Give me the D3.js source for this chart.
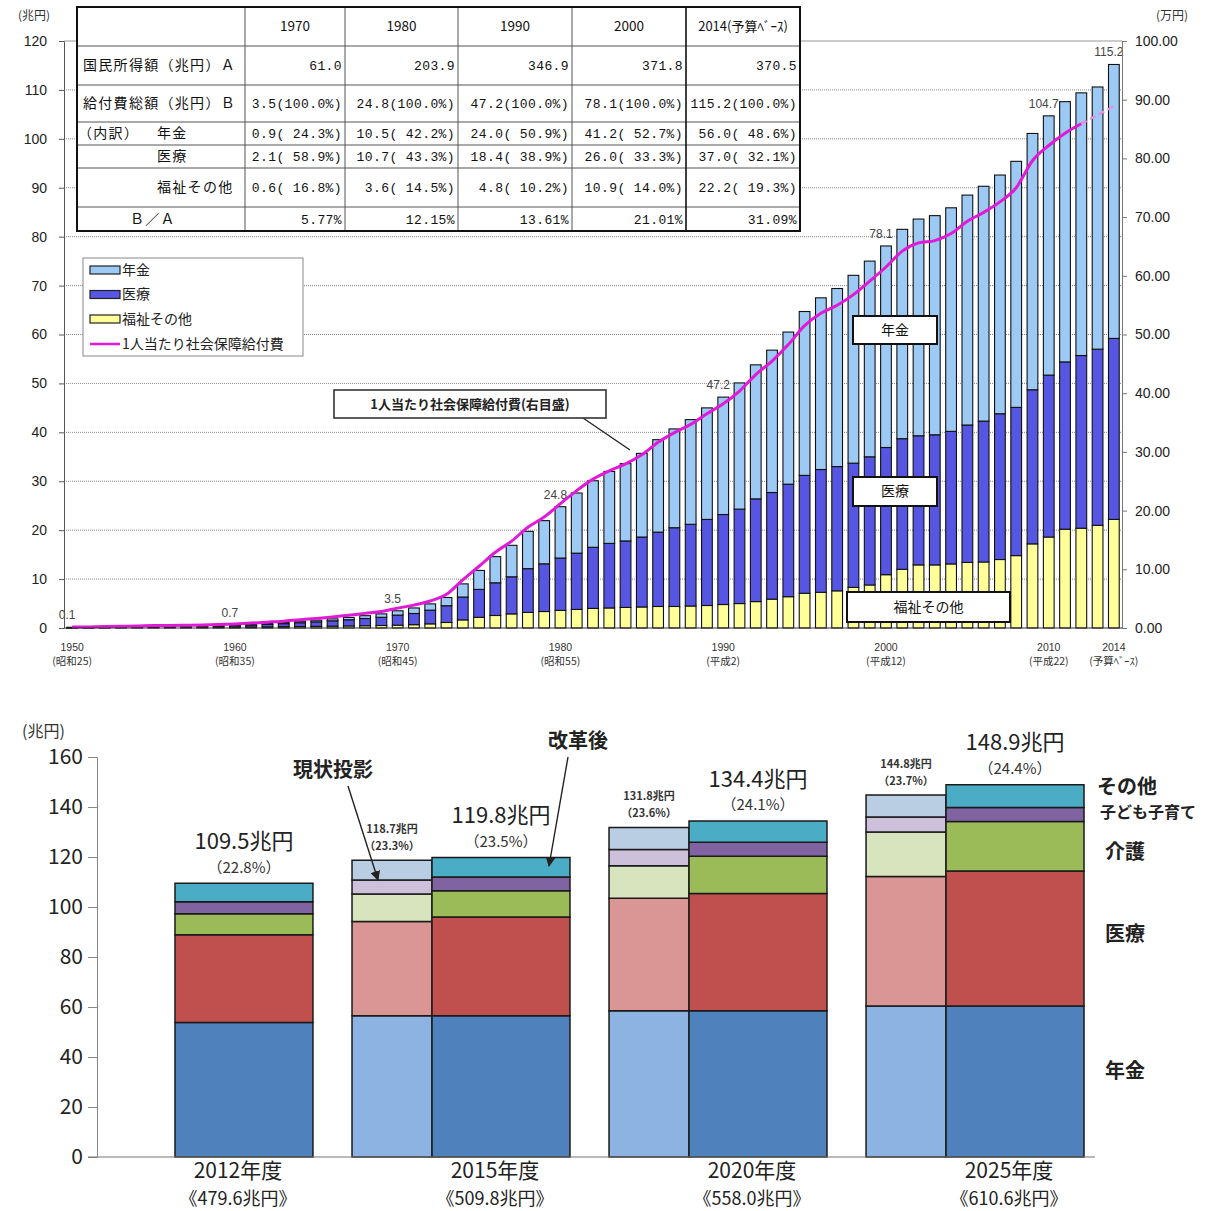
<!DOCTYPE html>
<html>
<head>
<meta charset="utf-8">
<script src="https://cdn.jsdelivr.net/npm/d3@7"></script>
<style>
body { margin: 0; background: #fff; }
svg text { font-family: "Noto Sans CJK JP", "Noto Sans", sans-serif; }
svg text.num { font-family: "Liberation Sans", Arial, sans-serif; }
svg text.mono { font-family: "Liberation Mono", "DejaVu Sans Mono", monospace; }
</style>
</head>
<body>
<svg id="chart" width="1214" height="1211"></svg>
<script>
// ---- top chart data: social security benefits 1950-2014 (兆円) ----
var years = d3.range(1950, 2015);
var pension = [
  0.01,0.01,0.02,0.03,0.04,0.09,0.09,0.09,0.10,0.12,
  0.16,0.19,0.21,0.24,0.30,0.34,0.40,0.47,0.58,0.70,
  0.88,1.13,1.28,1.69,2.69,3.88,5.35,6.43,7.63,8.83,
  10.5,12.3,13.6,14.7,15.8,17.1,18.9,20.2,21.4,22.8,
  24.0,25.8,27.4,29.1,31.1,33.5,35.1,36.4,38.4,40.0,
  41.2,42.8,44.3,44.8,45.7,47.0,48.0,48.8,50.3,52.4,
  53.0,53.2,53.7,53.6,56.0];
var medical = [
  0.06,0.08,0.11,0.13,0.15,0.18,0.19,0.21,0.24,0.27,
  0.31,0.40,0.51,0.62,0.78,0.92,1.09,1.27,1.48,1.68,
  2.06,2.29,2.80,3.42,4.67,5.71,6.68,7.58,8.95,9.75,
  10.7,11.5,12.5,13.2,13.6,14.3,15.2,16.1,16.7,17.6,
  18.4,19.3,21.0,21.8,23.0,24.1,25.1,25.4,25.4,26.2,
  26.0,26.7,26.4,26.6,27.1,28.1,28.8,29.8,30.3,31.5,
  33.1,34.2,35.3,36.0,37.0];
var welfare = [
  0.06,0.07,0.09,0.10,0.11,0.12,0.12,0.13,0.14,0.16,
  0.18,0.20,0.23,0.27,0.30,0.34,0.38,0.42,0.46,0.51,
  0.58,0.68,0.85,1.13,1.66,2.18,2.56,2.89,3.18,3.37,
  3.6,3.8,4.0,4.1,4.2,4.3,4.4,4.4,4.5,4.6,
  4.8,5.0,5.4,5.9,6.4,7.1,7.3,7.6,8.3,8.8,
  10.9,12.0,12.9,12.9,13.1,13.4,13.5,14.0,14.8,17.2,
  18.6,20.2,20.4,21.0,22.2];
// per person (万円, right axis)
var perCapita = [
  0.16,0.19,0.26,0.30,0.34,0.44,0.44,0.47,0.52,0.59,
  0.70,0.84,1.00,1.17,1.42,1.63,1.89,2.16,2.49,2.82,
  3.39,3.90,4.60,5.74,8.19,10.52,12.90,14.80,17.15,18.91,
  21.18,23.41,25.36,26.78,27.95,29.50,31.63,33.28,34.69,36.50,
  38.19,40.37,43.18,45.48,48.28,51.51,53.61,54.99,56.8,59.1,
  61.5,64.2,65.6,66.0,67.2,69.3,70.8,72.6,75.0,79.6,
  82.2,84.3,85.9,87.4,88.9];
var lineSolidUntil = 2012;

var labelYears = [1950, 1960, 1970, 1980, 1990, 2000, 2010, 2014];
var labelTexts = ["0.1", "0.7", "3.5", "24.8", "47.2", "78.1", "104.7", "115.2"];
var tickYears = [1950, 1960, 1970, 1980, 1990, 2000, 2010, 2014];
var eraLabels = ["(昭和25)", "(昭和35)", "(昭和45)", "(昭和55)", "(平成2)", "(平成12)", "(平成22)", "(予算ﾍﾞｰｽ)"];

var seriesNames = ["年金", "医療", "福祉その他"];
var lineName = "1人当たり社会保障給付費";

// table
var tableHead = ["1970", "1980", "1990", "2000", "2014(予算ﾍﾞｰｽ)"];
var rowIncome = ["61.0", "203.9", "346.9", "371.8", "370.5"];
var rowTotal = ["3.5(100.0%)", "24.8(100.0%)", "47.2(100.0%)", "78.1(100.0%)", "115.2(100.0%)"];
var rowPension = ["0.9( 24.3%)", "10.5( 42.2%)", "24.0( 50.9%)", "41.2( 52.7%)", "56.0( 48.6%)"];
var rowMedical = ["2.1( 58.9%)", "10.7( 43.3%)", "18.4( 38.9%)", "26.0( 33.3%)", "37.0( 32.1%)"];
var rowWelfare = ["0.6( 16.8%)", "3.6( 14.5%)", "4.8( 10.2%)", "10.9( 14.0%)", "22.2( 19.3%)"];
var rowRatio = ["5.77%", "12.15%", "13.61%", "21.01%", "31.09%"];

// ---- bottom chart data: projections (兆円) ----
var futureYears = ["2012", "2015", "2020", "2025"];
var futureCats = ["年金", "医療", "介護", "子ども子育て", "その他"];
// 改革後
var pensionR = [53.8, 56.5, 58.5, 60.4];
var medicalR = [35.1, 39.5, 46.9, 54.0];
var careR = [8.4, 10.5, 14.9, 19.8];
var childR = [4.8, 5.5, 5.6, 5.6];
var otherR = [7.4, 7.8, 8.5, 9.1];
// 現状投影
var pensionS = [null, 56.5, 58.5, 60.4];
var medicalS = [null, 37.7, 45.0, 51.8];
var careS = [null, 11.0, 13.0, 17.8];
var childS = [null, 5.6, 6.5, 6.0];
var otherS = [null, 7.9, 8.8, 8.8];
var reformTotal = ["109.5兆円", "119.8兆円", "134.4兆円", "148.9兆円"];
var reformPct = ["（22.8%）", "（23.5%）", "（24.1%）", "（24.4%）"];
var sqTotal = [null, "118.7兆円", "131.8兆円", "144.8兆円"];
var sqPct = [null, "（23.3%）", "（23.6%）", "（23.7%）"];
var gdpLabels = ["《479.6兆円》", "《509.8兆円》", "《558.0兆円》", "《610.6兆円》"];

var svg = d3.select("#chart");

// =============== top chart ===============
var x = d3.scaleBand().domain(years).range([64, 1122]).paddingInner(0.34).paddingOuter(0.17);
var yL = d3.scaleLinear().domain([0, 120]).range([628, 41]);
var yR = d3.scaleLinear().domain([0, 100]).range([628, 41]);
var bw = x.bandwidth();

var topG = svg.append("g");

// gridlines
topG.append("g").selectAll("line")
  .data(yL.ticks(12).filter(function(d) { return d > 0; }))
  .enter().append("line")
    .attr("x1", 64).attr("x2", 1122)
    .attr("y1", function(d) { return yL(d); }).attr("y2", function(d) { return yL(d); })
    .attr("stroke", function(d) { return d === 120 ? "#999" : "#888"; })
    .attr("stroke-dasharray", function(d) { return d === 120 ? null : "1,1"; });

// stacked bars
var rows = years.map(function(yr, i) {
  return { year: yr, welfare: welfare[i], medical: medical[i], pension: pension[i] };
});
var stack = d3.stack().keys(["welfare", "medical", "pension"]);
var barColors = { welfare: "#ffff99", medical: "#5656e2", pension: "#9dcaf5" };

topG.append("g").selectAll("g")
  .data(stack(rows))
  .enter().append("g")
    .attr("fill", function(s) { return barColors[s.key]; })
  .selectAll("rect")
  .data(function(s) { return s; })
  .enter().append("rect")
    .attr("x", function(d) { return x(d.data.year); })
    .attr("y", function(d) { return yL(d[1]); })
    .attr("width", bw)
    .attr("height", function(d) { return Math.max(0.5, yL(d[0]) - yL(d[1])); })
    .attr("stroke", "#111")
    .attr("stroke-width", 1.1);

// total labels
topG.append("g").selectAll("text")
  .data(labelYears)
  .enter().append("text")
    .attr("class", "num")
    .attr("x", function(yr) { return x(yr) + bw / 2 - 5; })
    .attr("y", function(yr) {
      var i = years.indexOf(yr);
      return yL(pension[i] + medical[i] + welfare[i]) - 8;
    })
    .attr("text-anchor", "middle")
    .attr("font-size", 12)
    .attr("fill", "#444")
    .text(function(yr, i) { return labelTexts[i]; });

// per-person line
var linePts = years.map(function(yr, i) { return { year: yr, v: perCapita[i] }; });
var line = d3.line()
  .x(function(d) { return x(d.year) + bw / 2; })
  .y(function(d) { return yR(d.v); })
  .curve(d3.curveMonotoneX);
topG.append("path")
  .datum(linePts.filter(function(d) { return d.year <= lineSolidUntil; }))
  .attr("d", line)
  .attr("fill", "none")
  .attr("stroke", "#e01ad6")
  .attr("stroke-width", 3);
topG.append("path")
  .datum(linePts.filter(function(d) { return d.year >= lineSolidUntil; }))
  .attr("d", line)
  .attr("fill", "none")
  .attr("stroke", "#e68ee0")
  .attr("stroke-width", 2.5)
  .attr("stroke-dasharray", "6,4");

// axes
topG.append("line").attr("x1", 64).attr("x2", 1122).attr("y1", 628).attr("y2", 628).attr("stroke", "#333");
topG.append("g").attr("transform", "translate(64,0)")
  .call(d3.axisLeft(yL).ticks(12).tickSize(5).tickSizeOuter(0).tickPadding(12))
  .call(function(g) {
    g.select(".domain").attr("stroke", "#555");
    g.selectAll(".tick line").attr("stroke", "#555");
    g.selectAll("text").attr("class", "num").attr("font-size", 14).attr("fill", "#222");
  });
topG.append("g").attr("transform", "translate(1122,0)")
  .call(d3.axisRight(yR).ticks(10).tickFormat(d3.format(".2f")).tickSize(5).tickSizeOuter(0).tickPadding(8))
  .call(function(g) {
    g.select(".domain").attr("stroke", "#777");
    g.selectAll(".tick line").attr("stroke", "#777");
    g.selectAll("text").attr("class", "num").attr("font-size", 14).attr("fill", "#222");
  });
topG.append("text").attr("x", 18).attr("y", 20).attr("font-size", 12).attr("fill", "#333").text("(兆円)");
topG.append("text").attr("x", 1156).attr("y", 20).attr("font-size", 12).attr("fill", "#333").text("(万円)");

// x tick labels
var xt = topG.append("g").selectAll("g").data(tickYears).enter().append("g")
  .attr("transform", function(yr) { return "translate(" + (x(yr) + bw / 2) + ",0)"; });
xt.append("text").attr("class", "num").attr("y", 651).attr("text-anchor", "middle")
  .attr("font-size", 10.5).attr("fill", "#333").text(function(yr) { return yr; });
xt.append("text").attr("y", 665).attr("text-anchor", "middle")
  .attr("font-size", 10.5).attr("fill", "#333").text(function(yr, i) { return eraLabels[i]; });

// table
var colX = [77, 245, 345, 458, 572, 686, 800];
var rowY = [7, 46, 85, 122, 145, 168, 207, 231];
var tbl = topG.append("g");
tbl.append("rect").attr("x", colX[0]).attr("y", rowY[0])
  .attr("width", colX[6] - colX[0]).attr("height", rowY[7] - rowY[0])
  .attr("fill", "#fff");
tbl.selectAll("line.r").data(rowY.slice(1, 7)).enter().append("line")
  .attr("x1", colX[0]).attr("x2", colX[6]).attr("y1", function(d) { return d; }).attr("y2", function(d) { return d; })
  .attr("stroke", "#555");
tbl.selectAll("line.c").data(colX.slice(1, 6)).enter().append("line")
  .attr("y1", rowY[0]).attr("y2", rowY[7]).attr("x1", function(d) { return d; }).attr("x2", function(d) { return d; })
  .attr("stroke", function(d, i) { return i === 4 ? "#111" : "#555"; })
  .attr("stroke-width", function(d, i) { return i === 4 ? 1.6 : 1; });
tbl.append("rect").attr("x", colX[0]).attr("y", rowY[0])
  .attr("width", colX[6] - colX[0]).attr("height", rowY[7] - rowY[0])
  .attr("fill", "none").attr("stroke", "#111").attr("stroke-width", 2);

var rowMid = d3.range(7).map(function(i) { return (rowY[i] + rowY[i + 1]) / 2; });
tbl.selectAll("text.h").data(tableHead).enter().append("text")
  .attr("x", function(d, i) { return (colX[i + 1] + colX[i + 2]) / 2; })
  .attr("y", rowMid[0]).attr("dy", "0.35em").attr("text-anchor", "middle")
  .attr("font-size", function(d, i) { return i === 4 ? 13 : 13.5; }).attr("fill", "#111")
  .text(function(d) { return d; });
[rowIncome, rowTotal, rowPension, rowMedical, rowWelfare, rowRatio].forEach(function(r, ri) {
  tbl.append("g").selectAll("text").data(r).enter().append("text")
    .attr("class", "mono")
    .attr("x", function(d, i) { return colX[i + 2] - 3; })
    .attr("y", rowMid[ri + 1]).attr("dy", "0.35em").attr("text-anchor", "end")
    .attr("font-size", 13).attr("letter-spacing", 0.4).attr("fill", "#111")
    .style("white-space", "pre")
    .text(function(d) { return d; });
});
var rowLabels = [
  { t: "国民所得額（兆円）Ａ", x: 83, r: 1 },
  { t: "給付費総額（兆円）Ｂ", x: 83, r: 2 },
  { t: "（内訳）", x: 78, r: 3 },
  { t: "年金", x: 157, r: 3 },
  { t: "医療", x: 157, r: 4 },
  { t: "福祉その他", x: 157, r: 5 },
  { t: "Ｂ／Ａ", x: 130, r: 6 }
];
tbl.selectAll("text.l").data(rowLabels).enter().append("text")
  .attr("x", function(d) { return d.x; })
  .attr("y", function(d) { return rowMid[d.r]; }).attr("dy", "0.35em")
  .attr("font-size", 14).attr("letter-spacing", 1.3).attr("fill", "#111")
  .text(function(d) { return d.t; });

// legend
var lg = topG.append("g").attr("transform", "translate(83,258)");
lg.append("rect").attr("width", 220).attr("height", 98).attr("fill", "#fff").attr("stroke", "#888");
var legendKeys = ["pension", "medical", "welfare"];
legendKeys.forEach(function(k, i) {
  var gy = 12 + i * 24.5;
  lg.append("rect").attr("x", 7).attr("y", gy - 4).attr("width", 30).attr("height", 8)
    .attr("fill", barColors[k]).attr("stroke", "#222").attr("stroke-width", 1.2);
  lg.append("text").attr("x", 39).attr("y", gy).attr("dy", "0.35em")
    .attr("font-size", 14).attr("fill", "#222").text(seriesNames[i]);
});
lg.append("line").attr("x1", 7).attr("x2", 37).attr("y1", 86).attr("y2", 86)
  .attr("stroke", "#e01ad6").attr("stroke-width", 2.5);
lg.append("text").attr("x", 39).attr("y", 86).attr("dy", "0.35em")
  .attr("font-size", 14).attr("fill", "#222").text(lineName);

// annotation boxes
function tagBox(x0, y0, w, h, label) {
  var g = topG.append("g");
  g.append("rect").attr("x", x0).attr("y", y0).attr("width", w).attr("height", h)
    .attr("fill", "#fff").attr("stroke", "#111").attr("stroke-width", 2);
  g.append("text").attr("x", x0 + w / 2).attr("y", y0 + h / 2).attr("dy", "0.35em")
    .attr("text-anchor", "middle").attr("font-size", 14).attr("fill", "#111").text(label);
}
tagBox(853, 316, 84, 28, seriesNames[0]);
tagBox(853, 477, 84, 29, seriesNames[1]);
tagBox(847, 592, 163, 30, seriesNames[2]);

topG.append("line").attr("x1", 583).attr("y1", 418).attr("x2", 630).attr("y2", 450)
  .attr("stroke", "#222").attr("stroke-width", 1.3);
topG.append("rect").attr("x", 334).attr("y", 390).attr("width", 272).attr("height", 28)
  .attr("fill", "#fff").attr("stroke", "#333").attr("stroke-width", 1.6);
topG.append("text").attr("x", 470).attr("y", 404).attr("dy", "0.35em")
  .attr("text-anchor", "middle").attr("font-size", 13).attr("font-weight", "bold").attr("fill", "#222")
  .text(lineName + "(右目盛)");

// =============== bottom chart ===============
var xb = d3.scaleBand().domain(futureYears).range([95, 1084]).paddingInner(0.152);
var yb = d3.scaleLinear().domain([0, 160]).range([1157, 757]);
var groupW = xb.bandwidth();
var lightW = groupW * 0.367;
var darkColors = ["#4f81bd", "#c0504d", "#9bbb59", "#8064a2", "#4bacc6"];
var lightColors = ["#8db3e2", "#da9694", "#d7e4bd", "#ccc0da", "#b9cde3"];

var botG = svg.append("g");

var reformRows = futureYears.map(function(yr, i) {
  return { year: yr, 0: pensionR[i], 1: medicalR[i], 2: careR[i], 3: childR[i], 4: otherR[i] };
});
var sqRows = futureYears.map(function(yr, i) {
  return { year: yr, 0: pensionS[i], 1: medicalS[i], 2: careS[i], 3: childS[i], 4: otherS[i] };
}).filter(function(d) { return d[0] !== null; });
var stackB = d3.stack().keys([0, 1, 2, 3, 4]);

botG.append("g").selectAll("g").data(stackB(sqRows)).enter().append("g")
  .attr("fill", function(s) { return lightColors[s.key]; })
  .selectAll("rect").data(function(s) { return s; }).enter().append("rect")
    .attr("x", function(d) { return xb(d.data.year); })
    .attr("y", function(d) { return yb(d[1]); })
    .attr("width", lightW)
    .attr("height", function(d) { return yb(d[0]) - yb(d[1]); })
    .attr("stroke", "#1a1a1a").attr("stroke-width", 1.5);

botG.append("g").selectAll("g").data(stackB(reformRows)).enter().append("g")
  .attr("fill", function(s) { return darkColors[s.key]; })
  .selectAll("rect").data(function(s) { return s; }).enter().append("rect")
    .attr("x", function(d) { return xb(d.data.year) + lightW; })
    .attr("y", function(d) { return yb(d[1]); })
    .attr("width", groupW - lightW)
    .attr("height", function(d) { return yb(d[0]) - yb(d[1]); })
    .attr("stroke", "#1a1a1a").attr("stroke-width", 1.5);

// axis
botG.append("g").attr("transform", "translate(97,0)")
  .call(d3.axisLeft(yb).ticks(8).tickSize(9).tickSizeOuter(0).tickPadding(5))
  .call(function(g) {
    g.select(".domain").attr("stroke", "#888");
    g.selectAll(".tick line").attr("stroke", "#888");
    g.selectAll("text").attr("font-size", 21).attr("fill", "#222");
  });
botG.append("line").attr("x1", 88).attr("x2", 1095).attr("y1", yb(0)).attr("y2", yb(0))
  .attr("stroke", "#777").attr("stroke-width", 1.2);
botG.append("text").attr("x", 22).attr("y", 737).attr("font-size", 16).attr("fill", "#333").text("(兆円)");

// totals above bars
function darkMid(i) { return xb(futureYears[i]) + lightW + (groupW - lightW) / 2; }
function lightMid(i) { return xb(futureYears[i]) + lightW / 2; }
var tops = reformRows.map(function(d) { return d[0] + d[1] + d[2] + d[3] + d[4]; });
futureYears.forEach(function(yr, i) {
  botG.append("text").attr("x", darkMid(i)).attr("y", yb(tops[i]) - 42).attr("dy", "0.35em")
    .attr("text-anchor", "middle").attr("font-size", 22).attr("fill", "#222").text(reformTotal[i]);
  botG.append("text").attr("x", darkMid(i)).attr("y", yb(tops[i]) - 16).attr("dy", "0.35em")
    .attr("text-anchor", "middle").attr("font-size", 15).attr("fill", "#333").text(reformPct[i]);
  if (sqTotal[i]) {
    var t = pensionS[i] + medicalS[i] + careS[i] + childS[i] + otherS[i];
    botG.append("text").attr("x", lightMid(i)).attr("y", yb(t) - 31).attr("dy", "0.35em")
      .attr("text-anchor", "middle").attr("font-size", 11).attr("font-weight", "bold").attr("fill", "#333").text(sqTotal[i]);
    botG.append("text").attr("x", lightMid(i)).attr("y", yb(t) - 14).attr("dy", "0.35em")
      .attr("text-anchor", "middle").attr("font-size", 11).attr("font-weight", "bold").attr("fill", "#333").text(sqPct[i]);
  }
  botG.append("text").attr("x", darkMid(i) - 6).attr("y", 1171).attr("dy", "0.35em")
    .attr("text-anchor", "middle").attr("font-size", 21).attr("fill", "#222").text(yr + "年度");
  botG.append("text").attr("x", darkMid(i) - 6).attr("y", 1199).attr("dy", "0.35em")
    .attr("text-anchor", "middle").attr("font-size", 18).attr("fill", "#222").text(gdpLabels[i]);
});

// category labels on the right
var catLabelY = [1071, 934, 852, 812, 787];
futureCats.forEach(function(c, i) {
  botG.append("text").attr("x", i === 3 ? 1100 : (i === 4 ? 1097 : 1105)).attr("y", catLabelY[i]).attr("dy", "0.35em")
    .attr("font-size", i === 3 ? 16 : 20).attr("font-weight", "bold").attr("fill", "#222").text(c);
});

// arrows
svg.append("defs").append("marker").attr("id", "arr")
  .attr("viewBox", "0 0 10 10").attr("refX", 9).attr("refY", 5)
  .attr("markerWidth", 7).attr("markerHeight", 7).attr("orient", "auto")
  .append("path").attr("d", "M0,0L10,5L0,10z").attr("fill", "#222");
botG.append("text").attr("x", 333).attr("y", 770).attr("dy", "0.35em").attr("text-anchor", "middle")
  .attr("font-size", 20).attr("font-weight", "bold").attr("fill", "#222").text("現状投影");
botG.append("line").attr("x1", 348).attr("y1", 786).attr("x2", 378).attr("y2", 880)
  .attr("stroke", "#222").attr("stroke-width", 1.4).attr("marker-end", "url(#arr)");
botG.append("text").attr("x", 578).attr("y", 741).attr("dy", "0.35em").attr("text-anchor", "middle")
  .attr("font-size", 20).attr("font-weight", "bold").attr("fill", "#222").text("改革後");
botG.append("line").attr("x1", 568).attr("y1", 757).attr("x2", 549).attr("y2", 866)
  .attr("stroke", "#222").attr("stroke-width", 1.4).attr("marker-end", "url(#arr)");
</script>
</body>
</html>
